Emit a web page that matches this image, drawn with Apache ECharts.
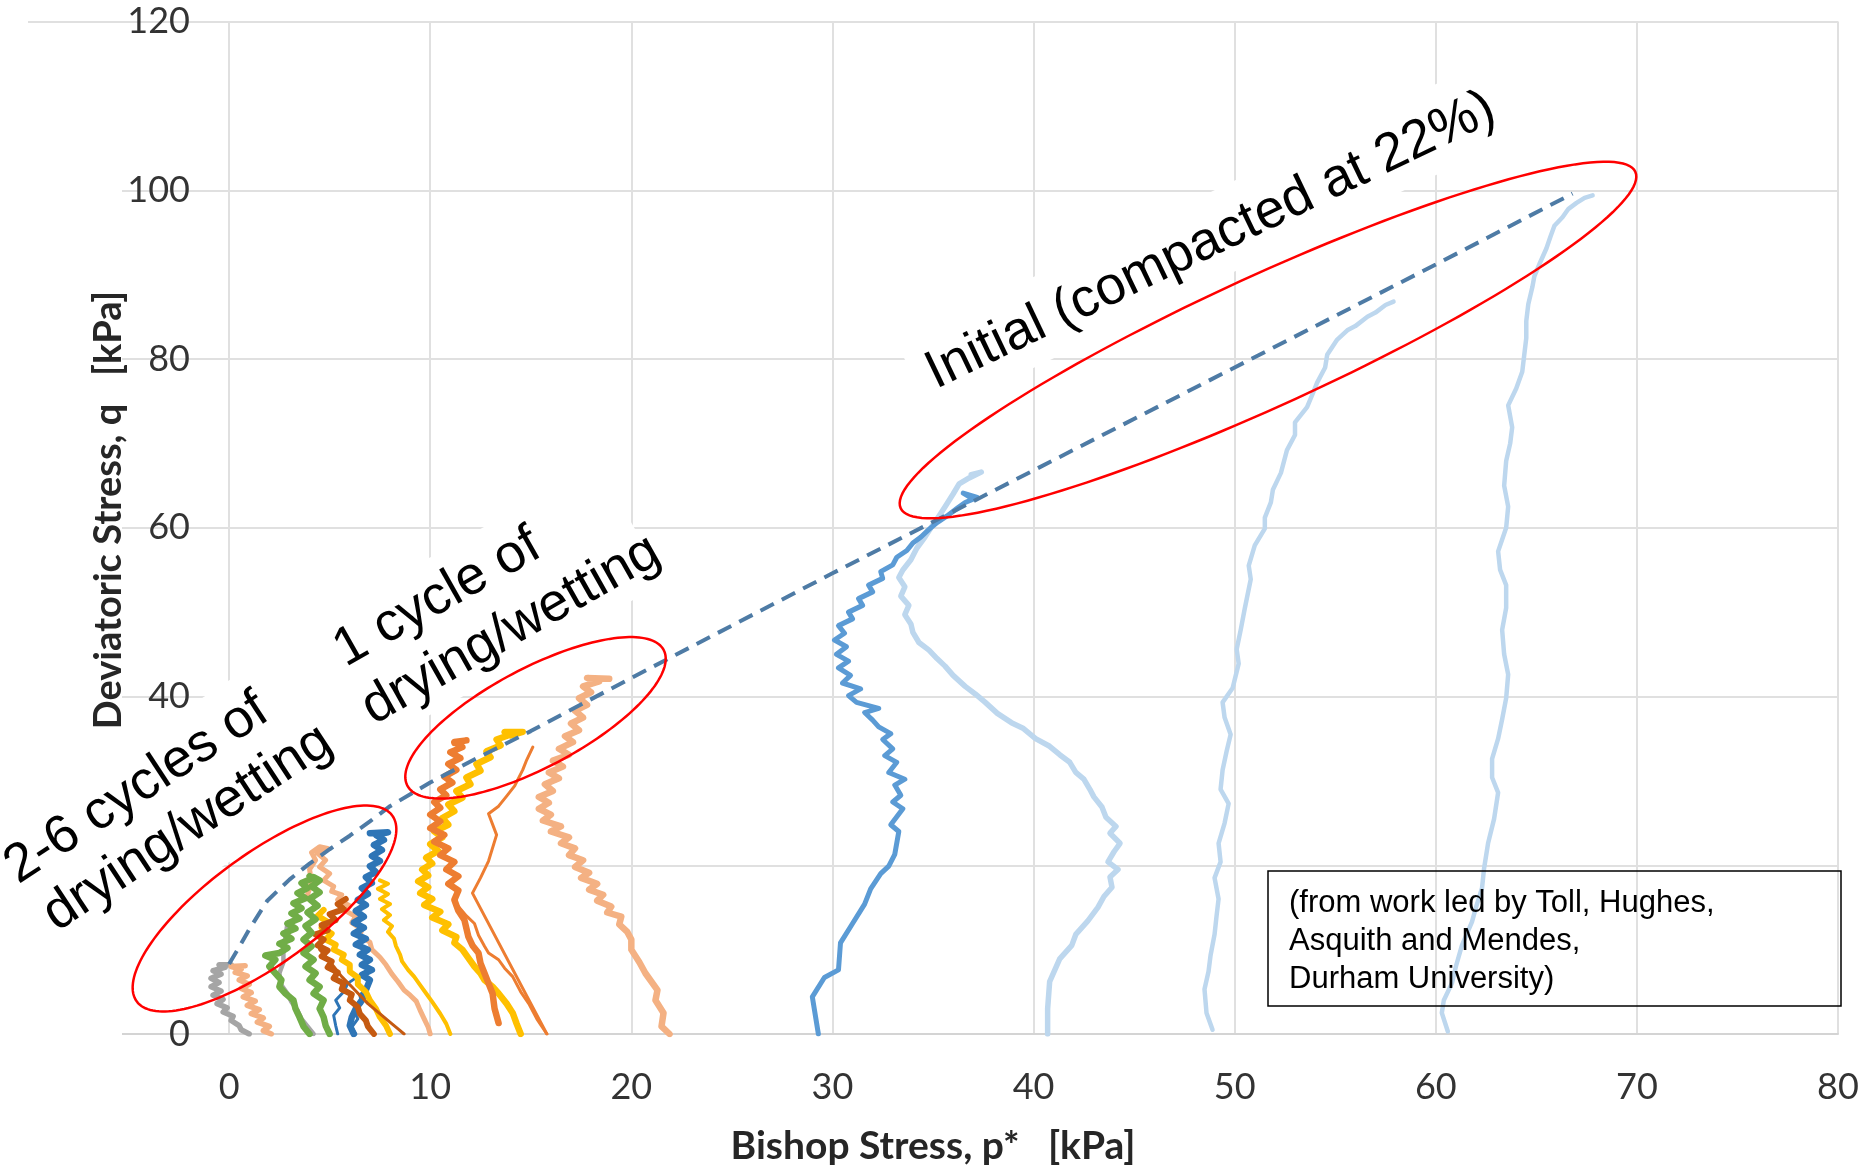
<!DOCTYPE html>
<html><head><meta charset="utf-8">
<script src="https://cdn.jsdelivr.net/npm/echarts@6/dist/echarts.min.js"></script>
<style>html,body{margin:0;padding:0;background:#fff;}#c{width:1868px;height:1165px;}</style>
</head><body><div id="c"></div>
<script>
// ---- axis ticks ----
const xTicks = [0, 10, 20, 30, 40, 50, 60, 70, 80];
const yTicks = [0, 20, 40, 60, 80, 100, 120];

// ---- series data: [p*, q] in kPa ----
const envelope = [[0,8.3],[0.5,10.3],[1,12.4],[1.9,15.8],[3,18.3],[4,20.2],[5,21.9],[6,23.5],[7,25.2],[8,27.0],[10,29.8],[12,32.3],[15,35.9],[20,42.2],[30,54.6],[40,66.8],[50,79.0],[60,91.2],[66.8,99.6]];

const lb60 = [[60.6,0.3],[60.3,2.5],[60.4,4.0],[60.8,6.0],[61.0,8.0],[61.3,10.5],[61.8,13.3],[62.0,15.0],[62.3,17.3],[62.4,19.6],[62.6,22.6],[62.9,25.5],[63.1,28.6],[62.8,30.4],[62.8,32.6],[63.1,35.0],[63.3,37.3],[63.5,39.8],[63.6,42.6],[63.4,45.0],[63.3,47.9],[63.5,50.5],[63.5,53.2],[63.2,55.0],[63.1,57.2],[63.5,60.0],[63.6,62.5],[63.4,65.0],[63.5,67.9],[63.7,70.0],[63.8,71.9],[63.6,74.5],[64.0,76.5],[64.3,78.5],[64.4,80.5],[64.5,82.5],[64.5,84.5],[64.6,86.5],[64.8,88.5],[64.9,89.8],[65.2,91.5],[65.5,93.1],[65.7,94.5],[65.9,95.8],[66.3,96.8],[66.6,97.8],[67.0,98.5],[67.4,99.1],[67.8,99.4]];
const lb49 = [[48.9,0.5],[48.6,2.5],[48.5,5.3],[48.7,7.4],[48.8,9.3],[49.0,11.8],[49.1,14.0],[49.2,16.0],[49.0,18.5],[49.3,20.4],[49.2,22.6],[49.5,25.0],[49.7,27.3],[49.3,29.0],[49.4,31.3],[49.6,33.5],[49.8,35.5],[49.5,37.5],[49.4,39.3],[49.9,41.0],[50.2,43.9],[50.1,45.6],[50.3,47.9],[50.5,50.4],[50.8,53.9],[50.7,55.5],[51.0,57.9],[51.5,59.9],[51.5,61.2],[51.8,63.0],[51.9,64.5],[52.3,66.5],[52.6,69.2],[53.0,71.0],[53.0,72.5],[53.6,74.3],[53.9,76.0],[54.1,77.2],[54.5,79.0],[54.6,80.5],[55.1,82.3],[55.6,83.4],[56.0,83.9],[56.6,85.0],[57.0,85.5],[57.5,86.4],[57.9,86.8]];
const lb41 = [[40.7,0],[40.7,3],[40.8,6.2],[41.3,8.9],[41.9,10.5],[42.1,11.8],[42.7,13.4],[43.2,15.0],[43.5,16.3],[43.9,17.4],[43.8,18.6],[44.2,19.5],[43.7,20.4],[44.0,21.6],[44.3,22.6],[43.8,23.8],[44.1,24.6],[43.6,25.7],[43.4,26.9],[43.0,28.1],[42.8,29.0],[42.5,30.2],[42.1,31.0],[41.8,32.2],[41.3,33.1],[40.8,34.1],[40.1,35.0],[39.5,36.2],[38.9,36.9],[38.2,38.0],[37.6,39.3],[37.1,40.3],[36.6,41.2],[36.0,42.5],[35.6,43.6],[35.2,44.5],[34.8,45.5],[34.3,46.4],[34.0,47.6],[33.9,48.6],[33.6,49.7],[33.8,50.8],[33.4,51.9],[33.6,53.0],[33.3,54.1],[33.5,55.0],[33.9,56.2],[34.2,57.6],[34.6,58.9],[34.9,60.0],[35.3,61.4],[35.6,62.5],[36.0,64.0],[36.3,65.2],[36.8,65.9],[37.4,66.6],[36.9,66.3]];
const blue29 = [[29.3,0],[29.0,4.4],[29.6,6.7],[30.3,7.6],[30.4,10.8],[31.0,13.1],[31.6,15.4],[31.9,17.2],[32.4,19.0],[32.8,19.9],[33.1,21.3],[33.3,24.0],[32.9,24.8],[33.5,26.7],[33.0,27.5],[33.4,28.3],[33.1,29.5],[33.6,30.2],[32.8,31.0],[33.2,32.2],[32.6,33.0],[33.0,33.8],[32.5,34.9],[32.9,35.6],[32.3,36.4],[32.0,37.2],[31.6,38.1],[32.3,38.6],[31.2,39.3],[30.8,40.1],[31.4,40.9],[30.5,41.6],[30.9,42.5],[30.3,43.4],[30.8,44.2],[30.2,45.0],[30.7,45.9],[30.1,46.7],[30.6,47.5],[30.3,48.4],[31.0,49.2],[30.8,50.0],[31.5,50.8],[31.3,51.6],[32.0,52.4],[31.8,53.2],[32.5,54.0],[32.4,54.8],[33.0,55.6],[33.2,56.5],[33.7,57.3],[34.0,58.2],[34.4,58.9],[34.8,59.8],[35.2,60.6],[35.7,61.4],[36.2,62.3],[36.6,63.0],[37.2,63.6],[36.5,64.1],[37.0,63.4]];
const salmon22 = [[21.9,0],[21.5,0.9],[21.6,2.5],[21.2,4.0],[21.3,5.2],[20.7,7.2],[20.4,8.5],[20.0,10.0],[20.0,11.2],[19.8,12.1],[19.4,13.0],[19.5,13.9],[18.8,14.4],[19.0,15.1],[18.3,15.8],[18.6,16.5],[17.9,17.1],[18.3,17.8],[17.5,18.5],[17.9,19.1],[17.2,19.8],[17.6,20.6],[16.9,21.2],[17.2,22.0],[16.5,22.6],[16.9,23.3],[16.0,24.0],[16.5,24.6],[15.6,25.3],[16.0,26.0],[15.4,26.7],[15.9,27.4],[15.4,28.1],[16.1,28.8],[15.7,29.6],[16.4,30.3],[15.9,31.0],[16.6,31.7],[16.1,32.4],[16.9,33.1],[16.4,33.8],[17.1,34.6],[16.7,35.3],[17.4,36.0],[17.0,36.8],[17.6,37.5],[17.2,38.3],[17.8,39.0],[17.4,39.8],[18.0,40.5],[17.6,41.2],[18.4,41.8],[17.8,42.2],[18.9,42.1]];
const orangeThin1 = [[15.8,0],[12.1,16.7],[12.5,18.5],[12.9,20.5],[13.3,23.6],[12.9,26.1],[13.4,27.0],[13.8,28.2],[14.2,29.4],[14.6,31.3],[14.8,32.5],[15.1,34.0]];
const orangeThin2 = [[15.8,0],[15.3,1.8],[14.9,3.6],[14.5,5.0],[14.1,6.8],[13.7,7.8],[13.4,8.8],[12.9,9.6],[12.7,10.4],[12.4,11.7],[12.2,13.1],[11.8,14.0],[11.4,15.1],[11.2,15.8]];
const orangeThick = [[13.4,1.3],[13.2,3.0],[13.1,4.8],[12.9,6.0],[12.7,7.2],[12.5,8.4],[12.4,9.6],[12.1,10.5],[11.9,11.5],[11.8,12.5],[11.7,13.5],[11.4,14.6],[11.2,15.9],[11.4,17.0],[10.9,17.8],[11.4,18.7],[10.8,19.5],[11.2,20.4],[10.5,21.2],[10.9,22.0],[10.2,22.8],[10.7,23.6],[10.0,24.4],[10.5,25.2],[10.0,26.0],[10.5,26.8],[10.2,27.5],[10.8,28.3],[10.5,29.0],[11.1,29.8],[10.7,30.5],[11.3,31.3],[10.9,32.0],[11.5,32.7],[11.0,33.4],[11.6,34.0],[11.2,34.6],[11.8,34.8],[11.2,34.5]];
const goldThick = [[14.5,0],[14.3,1.2],[14.1,2.5],[13.8,3.6],[13.4,4.8],[13.1,5.6],[12.7,6.4],[12.5,7.2],[12.2,8.0],[11.9,9.0],[11.6,10.0],[11.2,10.8],[11.3,11.5],[10.6,12.3],[10.9,13.0],[10.1,13.8],[10.5,14.5],[9.7,15.3],[10.1,16.0],[9.5,16.7],[9.9,17.4],[9.4,18.1],[9.9,18.8],[9.6,19.5],[10.1,20.2],[9.8,20.9],[10.4,21.7],[10.0,22.5],[10.6,23.3],[10.2,24.0],[10.9,24.8],[10.6,25.6],[11.2,26.4],[10.9,27.2],[11.6,28.0],[11.3,28.8],[12.0,29.6],[11.8,30.4],[12.5,31.2],[12.3,32.0],[13.0,32.8],[12.8,33.5],[13.5,34.2],[13.3,34.9],[14.0,35.5],[13.7,35.8],[14.6,35.8],[14.0,35.4]];
const goldLeft2 = [[7.5,18.2],[7.9,17.8],[7.4,17.2],[7.9,16.6],[7.5,16.0],[8.0,15.4],[7.6,14.8],[8.0,14.1],[7.7,13.5],[8.1,12.8],[7.9,12.1],[8.2,11.3],[8.3,10.4],[8.5,9.4],[8.6,8.6],[8.9,7.6],[9.2,6.8],[9.5,5.8],[9.8,4.8],[10.1,3.8],[10.5,2.4],[10.8,1.2],[11.0,0]];
const goldLeft1 = [[4.7,14.7],[4.4,14.0],[4.9,13.3],[4.6,12.6],[5.1,11.9],[4.8,11.2],[5.3,10.6],[5.2,10.0],[5.7,9.4],[5.6,8.8],[6.0,8.2],[6.0,7.4],[6.4,6.7],[6.4,5.9],[6.8,5.0],[7.0,4.0],[7.3,3.0],[7.5,2.0],[7.8,1.0],[8.0,0]];
const salmonPeak = [[3.9,16.5],[4.1,18.0],[4.0,19.5],[4.3,20.6],[4.1,21.5],[4.5,22.2],[4.9,22.0],[4.4,21.4],[4.8,20.6],[4.5,19.8],[5.0,19.0],[4.7,18.2],[5.2,17.5],[5.1,16.9],[5.6,16.5],[5.4,15.9],[6.0,15.2],[5.8,14.6],[6.3,13.9],[6.1,13.2],[6.6,12.4],[6.5,11.6],[7.0,10.9],[7.1,10.0],[7.5,9.1],[7.8,8.2],[8.1,7.1],[8.4,6.2],[8.7,5.2],[9.0,4.6],[9.3,3.9],[9.5,2.8],[9.7,1.8],[9.9,0.8],[10.0,0]];
const salmonSmall = [[2.1,0],[1.7,0.4],[2.0,0.9],[1.4,1.4],[1.7,1.9],[1.1,2.4],[1.5,2.9],[0.9,3.4],[1.3,3.9],[0.7,4.4],[1.1,4.9],[0.6,5.4],[1.0,5.9],[0.5,6.4],[0.9,6.9],[0.3,7.3],[0.6,7.7],[0.1,8.0],[0.8,8.1]];
const gray1 = [[1.0,0],[0.6,0.5],[0.5,1.0],[0.1,1.6],[0.2,2.1],[-0.3,2.6],[-0.1,3.1],[-0.6,3.6],[-0.3,4.1],[-0.8,4.6],[-0.4,5.1],[-0.9,5.6],[-0.5,6.1],[-0.9,6.6],[-0.4,7.1],[-0.8,7.5],[-0.2,7.9],[-0.5,8.2],[0.1,8.2]];
const gray2 = [[4.2,0],[3.9,0.9],[3.6,1.8],[3.4,2.8],[3.1,3.8],[2.9,4.8],[2.6,5.8],[2.5,7.2],[2.7,8.5],[2.7,10.0],[2.8,11.5],[2.9,13.1],[3.1,13.4]];
const green1 = [[4.0,0],[3.7,0.9],[3.5,2.0],[3.3,3.0],[3.2,4.0],[2.8,4.8],[2.5,5.6],[2.6,6.4],[2.3,7.2],[2.0,8.0],[2.3,8.8],[1.8,9.3],[2.5,9.6],[2.9,10.2],[2.5,10.7],[3.1,11.3],[2.7,11.9],[3.3,12.5],[2.9,13.1],[3.5,13.7],[3.1,14.3],[3.6,14.9],[3.2,15.5],[3.8,16.1],[3.4,16.7],[3.9,17.3],[3.6,17.9],[4.1,18.4],[4.0,18.7]];
const green2 = [[5.0,0],[4.8,1.0],[4.7,2.0],[4.5,3.0],[4.7,4.0],[4.2,4.8],[4.5,5.6],[4.0,6.4],[4.3,7.2],[3.8,8.0],[4.2,8.8],[3.7,9.6],[4.1,10.4],[3.7,11.2],[4.1,12.0],[3.8,12.8],[4.3,13.6],[3.9,14.4],[4.4,15.2],[4.0,16.0],[4.5,16.8],[4.1,17.5],[4.5,18.2],[4.2,18.6]];
const brown1 = [[5.8,16.0],[5.4,15.4],[5.7,14.8],[5.0,14.2],[5.3,13.5],[4.6,12.9],[4.9,12.3],[4.3,11.8],[4.7,11.2],[4.4,10.5],[4.9,9.9],[4.6,9.2],[5.1,8.6],[4.9,7.9],[5.4,7.3],[5.2,6.6],[5.7,6.0],[5.6,5.3],[6.1,4.7],[6.0,4.0],[6.4,3.2],[6.5,2.4],[6.8,1.6],[6.9,0.9],[7.2,0]];
const brown2 = [[4.5,10.0],[4.8,9.2],[5.2,8.0],[5.6,6.8],[6.1,5.6],[6.5,4.6],[6.9,3.6],[7.3,2.8],[7.7,2.0],[8.1,1.2],[8.4,0.6],[8.7,0]];
const blueLeft = [[6.2,0],[6.0,1.0],[6.1,2.0],[6.3,3.0],[6.6,4.0],[6.8,5.2],[7.0,6.4],[6.6,7.0],[7.1,7.6],[6.6,8.2],[7.0,8.8],[6.5,9.4],[6.9,10.0],[6.3,10.6],[6.8,11.3],[6.2,11.9],[6.7,12.6],[6.2,13.2],[6.7,13.9],[6.3,14.6],[6.8,15.3],[6.4,15.9],[6.9,16.6],[6.6,17.3],[7.1,17.9],[6.8,18.6],[7.3,19.2],[7.0,19.9],[7.5,20.5],[7.1,21.1],[7.6,21.8],[7.2,22.4],[7.7,23.0],[7.3,23.6],[7.9,23.9],[7.0,23.8]];
const blueThin1 = [[5.4,0],[5.3,1.0],[5.2,2.2],[5.5,3.1],[5.3,4.0],[5.7,5.0],[5.9,6.0],[6.4,6.8]];
const blueThin2 = [[6.3,0],[6.1,0.8],[6.4,1.8],[6.2,2.8],[6.6,3.6],[6.5,4.6],[6.9,5.6]];

// ---- annotation texts ----
const yTitle = 'Deviatoric Stress, q   [kPa]';
const xTitle = 'Bishop Stress, p*   [kPa]';
const noteLines = ['(from work led by Toll, Hughes,', 'Asquith and Mendes,', 'Durham University)'];
const ann1 = ['2-6 cycles of', 'drying/wetting'];
const ann2 = ['1 cycle of', 'drying/wetting'];
const ann3 = 'Initial (compacted at 22%)';

const chart = echarts.init(document.getElementById('c'), null, {renderer: 'canvas'});

function line(data, color, width, extra) {
  return Object.assign({
    type: 'line', data: data, showSymbol: false, symbol: 'none', z: 2,
    lineStyle: {color: color, width: width, join: 'round', cap: 'round'}, itemStyle: {color: color},
    silent: true, animation: false
  }, extra || {});
}

function ellipsePts(cx, cy, a, b, deg) {
  const t = deg * Math.PI / 180, c = Math.cos(t), s = Math.sin(t), pts = [];
  for (let i = 0; i < 160; i++) {
    const u = i / 160 * 2 * Math.PI, ex = a * Math.cos(u), ey = b * Math.sin(u);
    pts.push([cx + ex * c + ey * s, cy - ex * s + ey * c]);
  }
  return pts;
}

const annFont = {fontSize: 54, fontFamily: '"Liberation Sans", Arial, sans-serif', fill: '#000', align: 'left', verticalAlign: 'middle'};
function rotBox(x, y, deg, lines, box, line2dx, line2dy) {
  return {
    type: 'group', x: x, y: y, rotation: deg * Math.PI / 180,
    children: [
      {type: 'rect', z: 1, shape: box, style: {fill: '#fff'}},
    ].concat(lines.map((t, i) => ({
      type: 'text', z: 10, x: i === 0 ? 0 : line2dx, y: i === 0 ? -18 : line2dy,
      style: Object.assign({text: t}, annFont)
    })))
  };
}

const ellStyle = {fill: 'none', stroke: '#FF0000', lineWidth: 2.5};
const tickFont = 'Lato, "Open Sans", sans-serif';

const option = {
  animation: false,
  backgroundColor: '#fff',
  grid: {left: 28, right: 30, top: 21.5, bottom: 131, containLabel: false},
  xAxis: {
    type: 'value', min: -10, max: 80, interval: 10, z: 0,
    axisLine: {show: true, onZero: false, lineStyle: {color: '#D4D4D4', width: 2}},
    axisTick: {show: false},
    axisLabel: {showMinLabel: false, margin: 35, fontSize: 36, fontFamily: tickFont, color: '#333'},
    splitLine: {show: true, showMinLine: false, lineStyle: {color: '#E0E0E0', width: 2}}
  },
  yAxis: [
    {type: 'value', min: 0, max: 120, interval: 20, z: 0,
     axisLine: {show: false}, axisTick: {show: false}, axisLabel: {show: false},
     splitLine: {show: true, lineStyle: {color: '#E0E0E0', width: 2}}},
    {type: 'value', min: 0, max: 120, interval: 20, z: 0, position: 'left',
     axisLine: {show: false}, axisTick: {show: false}, splitLine: {show: false},
     axisLabel: {inside: true, margin: 162, align: 'right', fontSize: 36, fontFamily: tickFont, color: '#333'}}
  ],
  series: [
    line(lb60, '#BDD7EE', 4.5),
    line(lb49, '#BDD7EE', 4.5),
    line(lb41, '#BDD7EE', 5.5),
    line(blue29, '#5B9BD5', 5),
    line(salmon22, '#F4B183', 6.5),
    line(orangeThin1, '#ED7D31', 3),
    line(orangeThin2, '#ED7D31', 3),
    line(goldThick, '#FFC000', 6.5),
    line(orangeThick, '#ED7D31', 6.5),
    line(goldLeft2, '#FFC000', 4),
    line(salmonPeak, '#F4B183', 5),
    line(blueThin1, '#2E75B6', 3),
    line(blueThin2, '#2E75B6', 3),
    line(blueLeft, '#2E75B6', 6.5),
    line(goldLeft1, '#FFC000', 6),
    line(brown2, '#C55A11', 3),
    line(brown1, '#C55A11', 6),
    line(gray2, '#A5A5A5', 4.5),
    line(green1, '#70AD47', 6.5),
    line(green2, '#70AD47', 6.5),
    line(gray1, '#A5A5A5', 5.5),
    line(salmonSmall, '#F4B183', 5.5),
    line(envelope, '#4E7BA5', 4, {z: 3, lineStyle: {color: '#4E7BA5', width: 4, type: [15, 9]}})
  ],
  graphic: {elements: [
    // axis title box (white) and titles
    {type: 'rect', z: 1, shape: {x: 20, y: 30, width: 102, height: 1015}, style: {fill: '#fff'}},
    {type: 'text', z: 10, x: 109, y: 510, rotation: Math.PI / 2,
     style: {text: yTitle, fontSize: 38, fontWeight: 'bold', fontFamily: tickFont, fill: '#262626', align: 'center', verticalAlign: 'middle'}},
    {type: 'text', z: 10, x: 933, y: 1146,
     style: {text: xTitle, fontSize: 39, fontWeight: 'bold', fontFamily: tickFont, fill: '#262626', align: 'center', verticalAlign: 'middle'}},
    // rotated annotation boxes
    rotBox(20, 887, 33.3, ann1, {x: -30, y: -58, width: 415, height: 152}, 6, 43),
    rotBox(347, 670, 29.5, ann2, {x: -15, y: -57, width: 335, height: 137}, -4, 46),
    rotBox(937, 392, 25.6, [ann3], {x: -15, y: -62, width: 630, height: 82}, 0, 0),
    // red ellipses
    {type: 'polygon', z: 6, shape: {points: ellipsePts(264.5, 908.5, 158, 55, 36)}, style: ellStyle},
    {type: 'polygon', z: 6, shape: {points: ellipsePts(535.5, 717.8, 145, 49.5, 27.9)}, style: ellStyle},
    {type: 'polygon', z: 6, shape: {points: ellipsePts(1268, 340, 404, 65, 24.6)}, style: ellStyle},
    // note box
    {type: 'rect', z: 6, shape: {x: 1268, y: 871, width: 573, height: 135}, style: {fill: 'none', stroke: '#000', lineWidth: 1.5}},
  ].concat(noteLines.map((t, i) => ({
    type: 'text', z: 10, x: 1289, y: 903 + i * 38,
    style: {text: t, fontSize: 31, fontFamily: '"Liberation Sans", Arial, sans-serif', fill: '#000', align: 'left', verticalAlign: 'middle'}
  })))}
};
chart.setOption(option);
</script>
</body></html>
